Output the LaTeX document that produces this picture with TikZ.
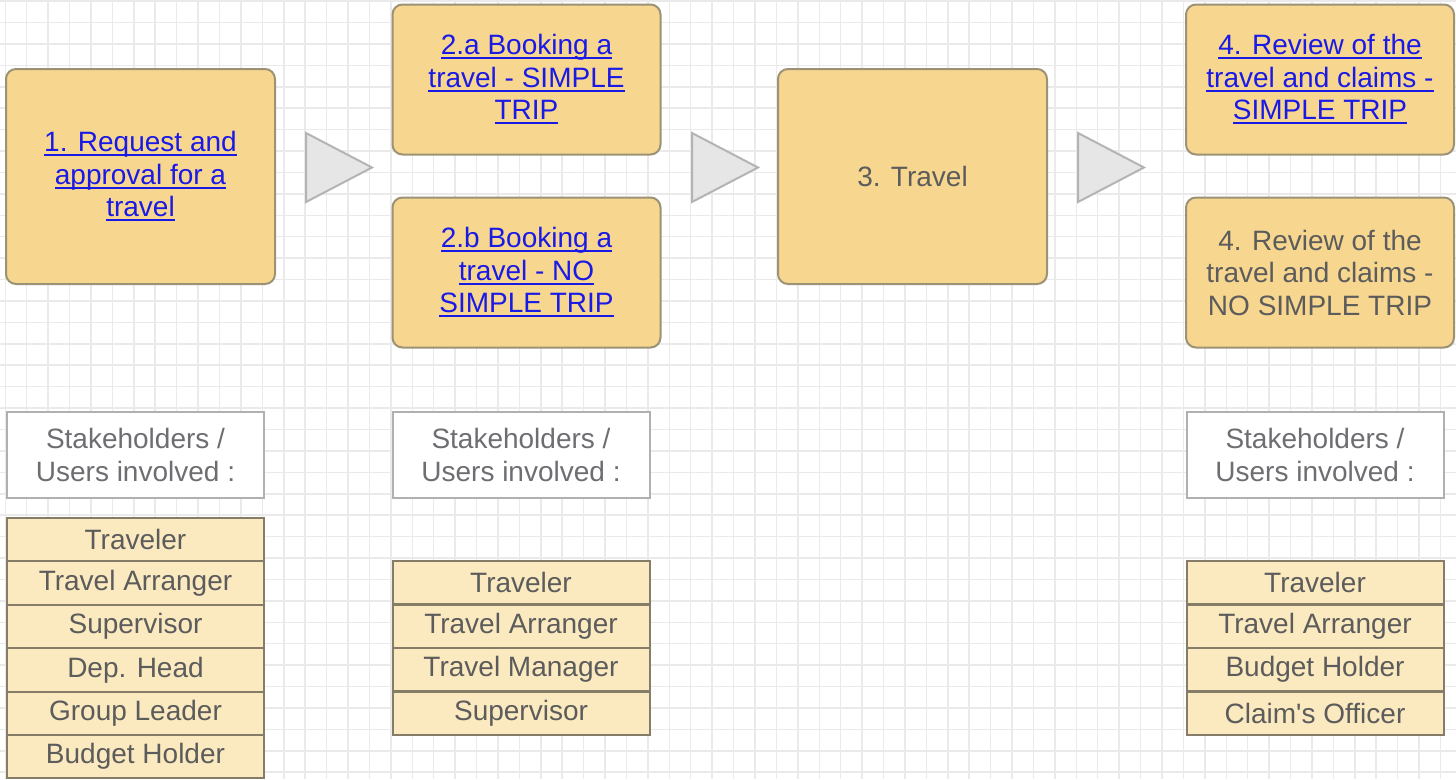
\documentclass[tikz,border=0pt]{standalone}
\usepackage{fontspec}
\setmainfont{Liberation Sans}

\definecolor{gridline}{HTML}{EAEAEA}
\definecolor{stepfill}{HTML}{F7D68F}
\definecolor{stepline}{HTML}{9C9275}
\definecolor{rowfill}{HTML}{FBE9BF}
\definecolor{rowline}{HTML}{857D68}
\definecolor{linkblue}{HTML}{1A1AE6}
\definecolor{bodytext}{HTML}{5C5C5C}
\definecolor{headtext}{HTML}{6E6E72}
\definecolor{headline}{HTML}{B0B0B0}
\definecolor{chevfill}{HTML}{E6E6E6}
\definecolor{chevline}{HTML}{B4B4B4}

% underlined hyperlink-style text, rule crossing descenders like a browser
\newcommand\lnk[1]{\setbox0=\hbox{#1}\rlap{\rule[-4.5pt]{\wd0}{2pt}}\box0}

\tikzset{
  txt/.style={font=\fontsize{28}{32.5}\selectfont},
  stepbox/.style={txt, draw=stepline, line width=2pt, fill=stepfill,
    rounded corners=10pt, inner sep=0pt, align=center, text=bodytext},
  bigstep/.style={stepbox, minimum width=269pt, minimum height=215pt},
  halfstep/.style={stepbox, minimum width=268pt, minimum height=150pt},
  linktext/.style={text=linkblue},
  headbox/.style={txt, draw=headline, line width=2pt, fill=white,
    inner sep=0pt, align=center, text=headtext,
    minimum width=257pt, minimum height=86pt},
  rowbox/.style={txt, draw=rowline, line width=2pt, fill=rowfill,
    inner sep=0pt, text=bodytext, minimum width=257pt, minimum height=43.4pt},
  chevron/.style={draw=chevline, fill=chevfill, line width=2pt, line join=miter},
}

\begin{document}
\begin{tikzpicture}[x=1pt, y=-1pt]
\useasboundingbox (0,0) rectangle (1456,779);
\fill[white] (0,0) rectangle (1456,779);

% background grid
\foreach \i in {0,...,67}
  \draw[gridline, line width=1.5pt] ({5.3+21.42*\i},0) -- ++(0,779);
\foreach \j in {0,...,36}
  \draw[gridline, line width=1.5pt] (0,{1.1+21.42*\j}) -- ++(1456,0);

% process steps
\node[bigstep, linktext] (s1) at (140.5,176.5)
  {\lnk{1. Request and}\\\lnk{approval for a}\\\lnk{travel}};
\node[halfstep, linktext] (s2a) at (526.5,79.5)
  {\lnk{2.a Booking a}\\\lnk{travel - SIMPLE}\\\lnk{TRIP}};
\node[halfstep, linktext] (s2b) at (526.5,272.5)
  {\lnk{2.b Booking a}\\\lnk{travel - NO}\\\lnk{SIMPLE TRIP}};
\node[bigstep] (s3) at (912.5,176.5) {3. Travel};
\node[halfstep, linktext] (s4a) at (1320,79.5)
  {\lnk{4. Review of the}\\\lnk{travel and claims -}\\\lnk{SIMPLE TRIP}};
\node[halfstep] (s4b) at (1320,272.5)
  {4. Review of the\\travel and claims -\\NO SIMPLE TRIP};

% chevrons between the steps
\draw[chevron] (306,133) -- (372,167.5) -- (306,202) -- cycle;
\draw[chevron] (692,133) -- (758,167.5) -- (692,202) -- cycle;
\draw[chevron] (1078,133) -- (1144,167.5) -- (1078,202) -- cycle;

% stakeholder headers
\node[headbox] (h1) at (135.5,455) {Stakeholders /\\Users involved :};
\node[headbox] (h2) at (521,455) {Stakeholders /\\Users involved :};
\node[headbox] (h4) at (1315,455) {Stakeholders /\\Users involved :};

% stakeholder lists
\foreach \t [count=\k] in {Traveler, Travel Arranger, Supervisor,
    Dep. Head, Group Leader, Budget Holder}
  \node[rowbox] (a\k) at (135.5,{518+43.4*(\k-0.5)}) {\t};
\foreach \t [count=\k] in {Traveler, Travel Arranger, Travel Manager, Supervisor}
  \node[rowbox] (b\k) at (521,{561+43.5*(\k-0.5)}) {\t};
\foreach \t [count=\k] in {Traveler, Travel Arranger, Budget Holder,
    Claim\textquotesingle s Officer}
  \node[rowbox] (c\k) at (1315,{561+43.5*(\k-0.5)}) {\t};
\end{tikzpicture}
\end{document}
